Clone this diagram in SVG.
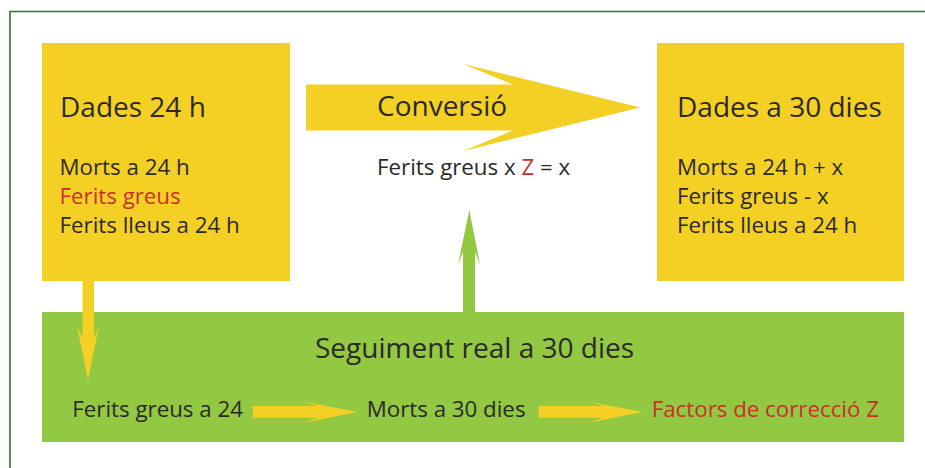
<svg xmlns="http://www.w3.org/2000/svg" width="925" height="468" viewBox="0 0 925 468">
<style>
.t{font-family:"Open Sans","Noto Sans","Liberation Sans",sans-serif;fill:#2b2a28}
.h{font-size:28px}
.b{font-size:22.3px}
.r{fill:#c9302c}
.yb{fill:#f5d024}
.gb{fill:#92c842}
</style>
<rect x="0" y="0" width="925" height="468" fill="#ffffff"/>
<path d="M10,468 V11.5 H925" fill="none" stroke="#3f6f25" stroke-width="1.6"/>
<g id="dades24">
<rect class="yb" x="42" y="43" width="248" height="238"/>
<text class="t h" x="60" y="117">Dades 24 h</text>
<text class="t b" x="59.5" y="175">Morts a 24 h</text>
<text class="t b r" x="59.5" y="204">Ferits greus</text>
<text class="t b" x="59.5" y="233">Ferits lleus a 24 h</text>
</g>
<g id="dades30">
<rect class="yb" x="657" y="43" width="247" height="238"/>
<text class="t h" x="677" y="117">Dades a 30 dies</text>
<text class="t b" x="677" y="174.5">Morts a 24 h + x</text>
<text class="t b" x="677" y="204">Ferits greus - x</text>
<text class="t b" x="677" y="233">Ferits lleus a 24 h</text>
</g>
<g id="seguiment">
<rect class="gb" x="42" y="312" width="862" height="130"/>
<text class="t h" x="315" y="358">Seguiment real a 30 dies</text>
</g>
<g id="connectors">
<polygon class="yb" points="306,84.5 513,84.5 463,64 640,107.5 463,151 513,130.5 306,130.5"/>
<polygon class="yb" points="82.5,281 94,281 94,338 99,326 88,380 77,326 82.5,338"/>
<polygon class="gb" points="463,312 463,252 458,264.5 469.3,210 480,264.5 475,252 475,312"/>
<polygon class="yb" points="252.7,406 318,406 303.3,401.5 357.3,412 303.3,423 318,417.7 252.7,417.7"/>
<polygon class="yb" points="538.7,406 603,406 588,401.5 642.7,412 588,423 603,417.7 538.7,417.7"/>
</g>
<g id="conversio">
<text class="t h" x="377" y="116">Conversió</text>
<text class="t b" x="377" y="175">Ferits greus x <tspan class="r">Z</tspan> = x</text>
</g>
<g id="ferits24">
<text class="t b" x="72.3" y="417">Ferits greus a 24</text>
</g>
<g id="morts30">
<text class="t b" x="366.7" y="417">Morts a 30 dies</text>
</g>
<g id="factors">
<text class="t b r" x="651.7" y="417">Factors de correcció Z</text>
</g>
</svg>
